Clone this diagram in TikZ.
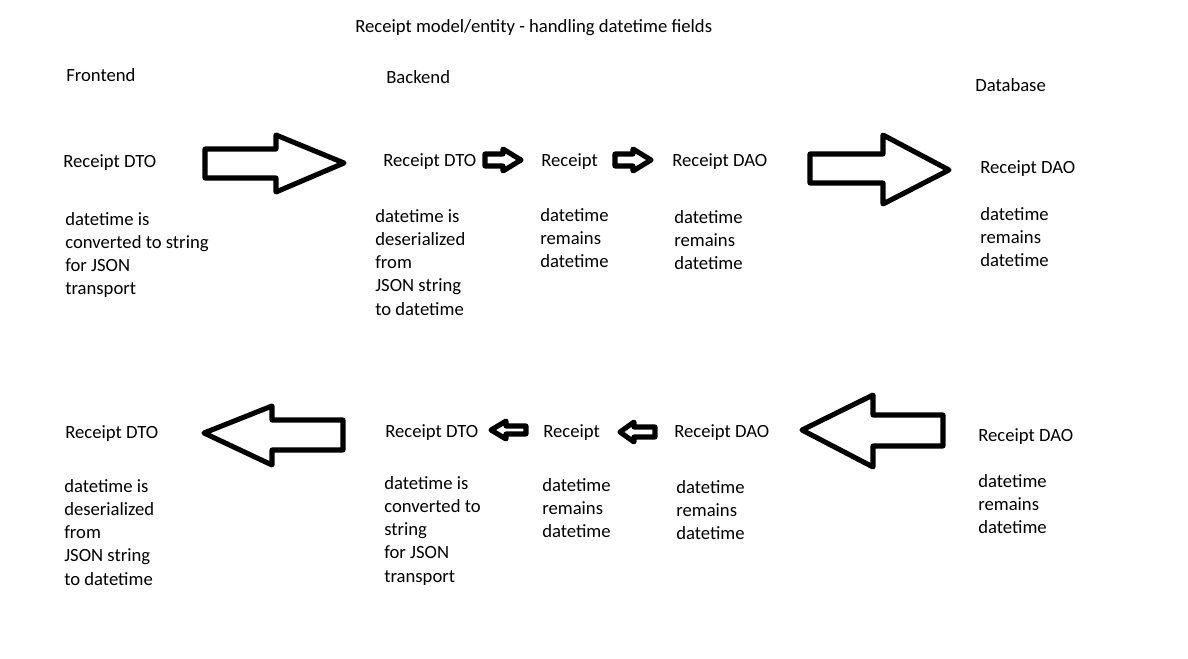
\documentclass[tikz,border=0pt]{standalone}
\usepackage{fontspec}
\setmainfont{Carlito}
\begin{document}
\begin{tikzpicture}[x=0.75pt, y=-0.75pt,
    lbl/.style={anchor=base west, inner sep=0pt, font=\fontsize{14}{17.4}\selectfont},
    desc/.style={lbl, align=left, anchor=north west},
    blk/.style={draw=black, line width=3.8pt, line join=round}]
    \fill[white] (0,0) rectangle (1188,659);
    \useasboundingbox (0,0) rectangle (1188,659);

    % Headings
    \node[lbl] (title) at (355,33) {Receipt model/entity - handling datetime fields};
    \node[lbl] (front) at (66,82) {Frontend};
    \node[lbl] (back) at (386,84) {Backend};
    \node[lbl] (db) at (975,92) {Database};

    % Upper row: frontend to database
    \node[lbl] (dtoA) at (63,168) {Receipt DTO};
    \node[desc] (dtoAtxt) at (65,212) {datetime is\\converted to string\\for JSON\\transport};
    \node[lbl] (dtoB) at (383,167) {Receipt DTO};
    \node[desc] (dtoBtxt) at (375,209) {datetime is\\deserialized\\from\\JSON string\\to datetime};
    \node[lbl] (recA) at (541,167) {Receipt};
    \node[desc] (recAtxt) at (540,208) {datetime\\remains\\datetime};
    \node[lbl] (daoA) at (672,167) {Receipt DAO};
    \node[desc] (daoAtxt) at (674,210) {datetime\\remains\\datetime};
    \node[lbl] (daoB) at (980,174) {Receipt DAO};
    \node[desc] (daoBtxt) at (980,207) {datetime\\remains\\datetime};

    % Lower row: database back to frontend
    \node[lbl] (dtoC) at (65,438) {Receipt DTO};
    \node[desc] (dtoCtxt) at (64,479) {datetime is\\deserialized\\from\\JSON string\\to datetime};
    \node[lbl] (dtoD) at (385,437) {Receipt DTO};
    \node[desc] (dtoDtxt) at (384,476) {datetime is\\converted to\\string\\for JSON\\transport};
    \node[lbl] (recB) at (543,437) {Receipt};
    \node[desc] (recBtxt) at (542,478) {datetime\\remains\\datetime};
    \node[lbl] (daoC) at (674,437) {Receipt DAO};
    \node[desc] (daoCtxt) at (676,480) {datetime\\remains\\datetime};
    \node[lbl] (daoD) at (978,441) {Receipt DAO};
    \node[desc] (daoDtxt) at (978,474) {datetime\\remains\\datetime};

    % Block arrows, upper row
    \draw[blk] (205,149)--(276,149)--(276,135)--(344,163)--(276,192)--(276,178)--(205,178)--cycle;
    \draw[blk] (485,154)--(503,154)--(503,149)--(521,160)--(503,171)--(503,166)--(485,166)--cycle;
    \draw[blk] (615,154)--(633,154)--(633,149)--(651,160)--(633,171)--(633,166)--(615,166)--cycle;
    \draw[blk] (810,154)--(883,154)--(883,135)--(949,170)--(883,204)--(883,183)--(810,183)--cycle;

    % Block arrows, lower row
    \draw[blk] (343,420)--(272,420)--(272,406)--(204,433)--(272,465)--(272,450)--(343,450)--cycle;
    \draw[blk] (526,426)--(506,426)--(506,421)--(491,430)--(506,439)--(506,434)--(526,434)--cycle;
    \draw[blk] (655,427)--(634,427)--(634,422)--(620,432)--(634,442)--(634,437)--(655,437)--cycle;
    \draw[blk] (943,415)--(873,415)--(873,395)--(802,430)--(873,467)--(873,446)--(943,446)--cycle;
\end{tikzpicture}
\end{document}
